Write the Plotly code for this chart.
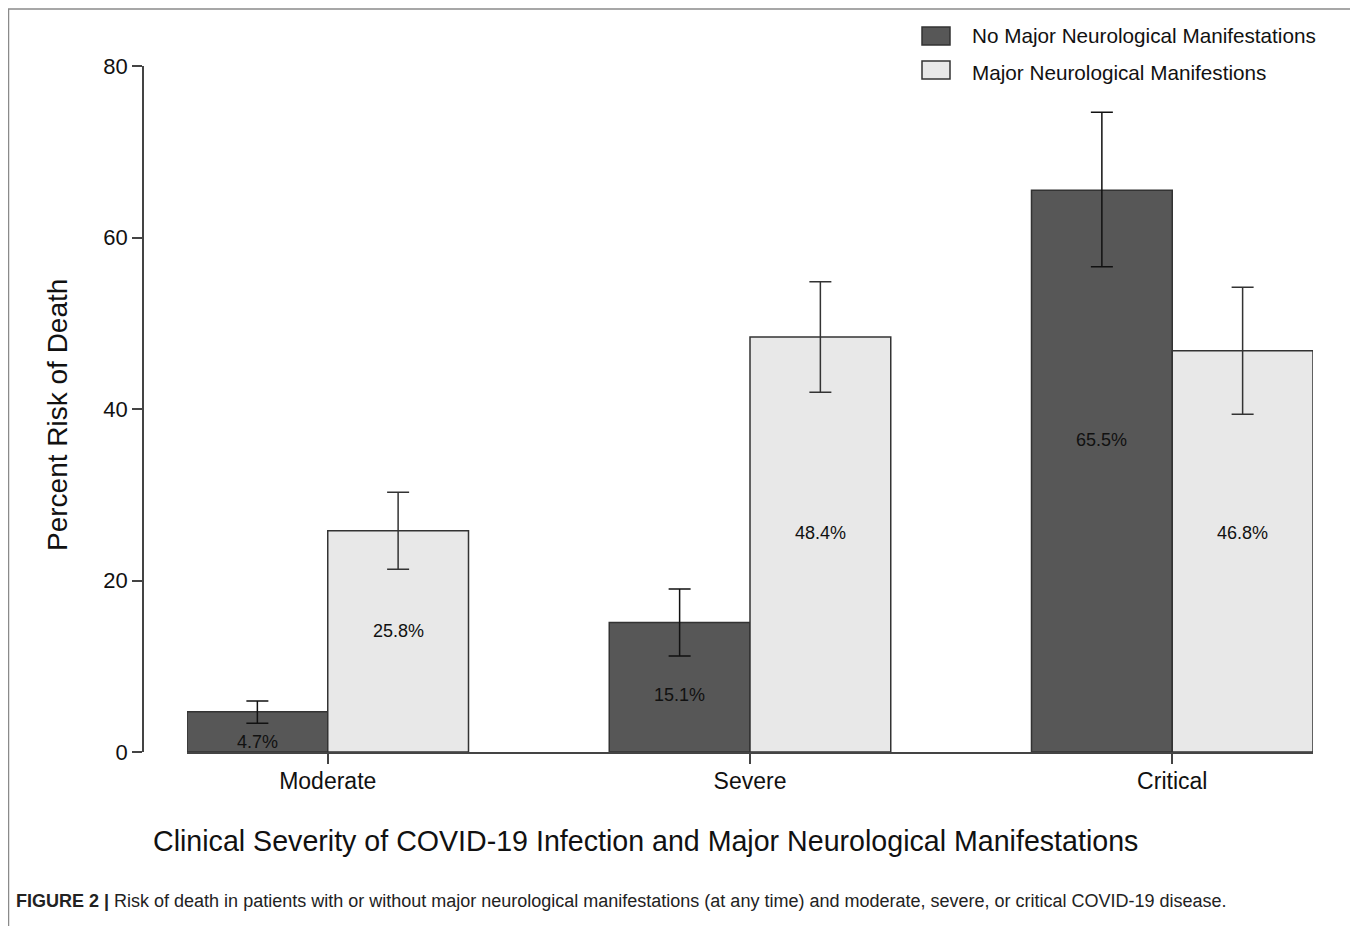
import plotly.graph_objects as go

# The page body has an 8px margin, so the figure is sized to fill the rest of the window.
OFF = 8
W, H = 1358 - OFF, 926 - OFF

categories = ["Moderate", "Severe", "Critical"]
no_major = [4.7, 15.1, 65.5]
no_major_hi = [5.95, 19.0, 74.6]
no_major_lo = [3.35, 11.2, 56.6]
major = [25.8, 48.4, 46.8]
major_hi = [30.3, 54.85, 54.2]
major_lo = [21.3, 41.95, 39.4]
no_major_label_y = [1.2, 6.6, 36.4]
major_label_y = [14.1, 25.5, 25.5]
y_ticks = [0, 20, 40, 60, 80]

series_names = ["No Major Neurological Manifestations", "Major Neurological Manifestions"]


def px(x):
    return (x - OFF) / W


def py(y):
    return 1 - (y - OFF) / H


FONT = "Liberation Sans, Arial, Helvetica, sans-serif"
DARK = "#575757"
LIGHT = "#e8e8e8"
EDGE = "#333333"
AX = "#444444"

fig = go.Figure()
fig.add_trace(go.Bar(
    x=categories, y=no_major, name=series_names[0], showlegend=False,
    marker=dict(color=DARK, line=dict(color=EDGE, width=1.5)),
    error_y=dict(type="data", symmetric=False,
                 array=[h - v for h, v in zip(no_major_hi, no_major)],
                 arrayminus=[v - l for l, v in zip(no_major_lo, no_major)],
                 color="#111111", thickness=1.5, width=11),
))
fig.add_trace(go.Bar(
    x=categories, y=major, name=series_names[1], showlegend=False,
    marker=dict(color=LIGHT, line=dict(color=EDGE, width=1.5)),
    error_y=dict(type="data", symmetric=False,
                 array=[h - v for h, v in zip(major_hi, major)],
                 arrayminus=[v - l for l, v in zip(major_lo, major)],
                 color="#333333", thickness=1.5, width=11),
))

annotations = []
for c, v, ly in zip(categories, no_major, no_major_label_y):
    annotations.append(dict(x=c, y=ly, xref="x", yref="y", text=f"{v}%", showarrow=False,
                            xshift=-70.5, xanchor="center", yanchor="middle",
                            font=dict(family=FONT, size=18, color="#111111")))
for c, v, ly in zip(categories, major, major_label_y):
    annotations.append(dict(x=c, y=ly, xref="x", yref="y", text=f"{v}%", showarrow=False,
                            xshift=70.5, xanchor="center", yanchor="middle",
                            font=dict(family=FONT, size=18, color="#111111")))

# axis titles
annotations.append(dict(x=px(57), y=py(415), xref="paper", yref="paper", text="Percent Risk of Death",
                        textangle=-90, showarrow=False, xanchor="center", yanchor="middle",
                        font=dict(family=FONT, size=28, color="#111111")))
annotations.append(dict(x=px(645), y=py(841), xref="paper", yref="paper",
                        text="Clinical Severity of COVID-19 Infection and Major Neurological Manifestations",
                        showarrow=False, xanchor="center", yanchor="middle",
                        font=dict(family=FONT, size=28.6, color="#111111")))
# legend text
annotations.append(dict(x=px(970), y=py(36), xref="paper", yref="paper", text=series_names[0],
                        xanchor="left", yanchor="middle", showarrow=False,
                        font=dict(family=FONT, size=20.7, color="#111111")))
annotations.append(dict(x=px(970), y=py(72), xref="paper", yref="paper", text=series_names[1],
                        xanchor="left", yanchor="middle", showarrow=False,
                        font=dict(family=FONT, size=20.7, color="#111111")))
# caption
annotations.append(dict(x=px(14), y=py(901), xref="paper", yref="paper",
                        text="<b>FIGURE 2 |</b> Risk of death in patients with or without major neurological "
                             "manifestations (at any time) and moderate, severe, or critical COVID-19 disease.",
                        xanchor="left", yanchor="middle", showarrow=False,
                        font=dict(family=FONT, size=18, color="#222222")))

shapes = [
    # outer frame
    dict(type="rect", xref="paper", yref="paper", x0=px(8.5), x1=px(1355), y0=-0.05, y1=py(9),
         line=dict(color="#8a8a8a", width=1.5), fillcolor="rgba(0,0,0,0)", layer="below"),
    # legend boxes
    dict(type="rect", xref="paper", yref="paper", x0=px(922), x1=px(950), y0=py(45), y1=py(27),
         line=dict(color=EDGE, width=1.5), fillcolor=DARK),
    dict(type="rect", xref="paper", yref="paper", x0=px(922), x1=px(950), y0=py(79), y1=py(61),
         line=dict(color=EDGE, width=1.5), fillcolor=LIGHT),
]

fig.update_layout(
    width=W, height=H,
    margin=dict(l=0, r=0, t=0, b=0, pad=0, autoexpand=False),
    paper_bgcolor="white", plot_bgcolor="white",
    barmode="group", bargap=1/3, bargroupgap=0,
    showlegend=False,
    annotations=annotations, shapes=shapes,
    font=dict(family=FONT, color="#111111"),
    xaxis=dict(domain=[px(187), px(1313)], range=[-1/3, 7/3], type="category", automargin=False,
               showline=True, linecolor=AX, linewidth=1.5,
               ticks="outside", ticklen=10, tickwidth=1.5, tickcolor=AX, ticklabelstandoff=-2,
               tickfont=dict(family=FONT, size=23, color="#111111"),
               showgrid=False, zeroline=False, fixedrange=True),
    yaxis=dict(domain=[py(752), py(66)], range=[0, 80], anchor="free", position=px(143), automargin=False,
               tickvals=y_ticks, showline=True, linecolor=AX, linewidth=1.5,
               ticks="outside", ticklen=10, tickwidth=1.5, tickcolor=AX,
               tickfont=dict(family=FONT, size=22, color="#111111"),
               showgrid=False, zeroline=False, fixedrange=True),
)

fig.write_html("out.html")
